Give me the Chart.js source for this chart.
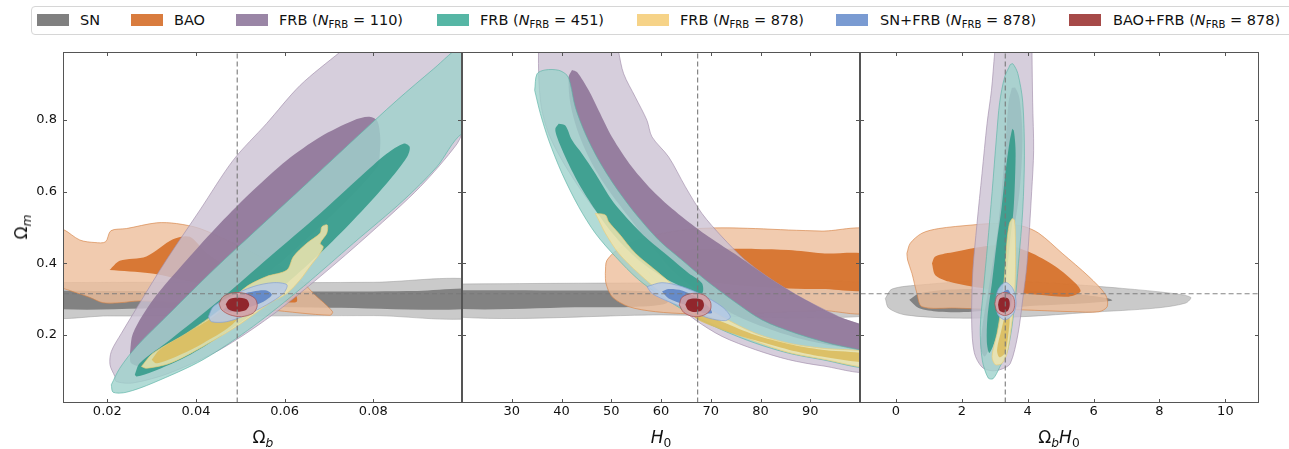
<!DOCTYPE html>
<html lang="en">
<head>
  <meta charset="UTF-8">
  <title>Omega_m constraints</title>
  <script src="https://cdn.jsdelivr.net/npm/chart.js@4.4.1/dist/chart.umd.min.js"></script>
  <style>
    body {
      margin: 0;
      width: 1289px;
      height: 449px;
      background: #fff;
      font-family: 'DejaVu Sans', sans-serif;
      color: #111;
      position: relative;
      overflow: hidden;
    }
    canvas { position: absolute; top: 0; }
    #legend {
      position: absolute;
      left: 31px;
      top: 6px;
      width: 1290px;
      height: 27px;
      border: 1px solid #d6d6d6;
      border-radius: 4px;
    }
    .patch { position: absolute; top: 14px; width: 32px; height: 12px; }
    .ltxt { position: absolute; top: 12px; font-size: 14.5px; line-height: 17px; white-space: nowrap; }
    .ltxt sub { font-size: 70%; vertical-align: -0.28em; line-height: 0; }
    .axl { position: absolute; top: 427px; font-size: 17px; line-height: 20px; transform: translateX(-50%); white-space: nowrap; }
    .axl sub, #ylab sub { font-size: 72%; vertical-align: -0.3em; line-height: 0; }
    #ylab { position: absolute; left: 21px; top: 227px; font-size: 17px; line-height: 20px;
            transform: translate(-50%, -50%) rotate(-90deg); white-space: nowrap; }
  </style>
</head>
<body>

  <div id="legend"></div>
  <div class="patch" style="left:37px;background:#808080"></div>
  <div class="ltxt" style="left:80px">SN</div>
  <div class="patch" style="left:131px;background:#d97c3e"></div>
  <div class="ltxt" style="left:174px">BAO</div>
  <div class="patch" style="left:236px;background:#9a86a6"></div>
  <div class="ltxt" style="left:279px">FRB (<i>N</i><sub>FRB</sub> = 110)</div>
  <div class="patch" style="left:437px;background:#56b6a5"></div>
  <div class="ltxt" style="left:480px">FRB (<i>N</i><sub>FRB</sub> = 451)</div>
  <div class="patch" style="left:637px;background:#f6d388"></div>
  <div class="ltxt" style="left:680px">FRB (<i>N</i><sub>FRB</sub> = 878)</div>
  <div class="patch" style="left:836px;background:#7a9bd2"></div>
  <div class="ltxt" style="left:880px">SN+FRB (<i>N</i><sub>FRB</sub> = 878)</div>
  <div class="patch" style="left:1069px;background:#a64a48"></div>
  <div class="ltxt" style="left:1113px">BAO+FRB (<i>N</i><sub>FRB</sub> = 878)</div>

  <canvas id="pB" width="462" height="449" style="left:0px"></canvas>
  <canvas id="pH" width="398" height="449" style="left:462px"></canvas>
  <canvas id="pBH" width="399" height="449" style="left:860px"></canvas>

  <div id="ylab">Ω<sub><i>m</i></sub></div>
  <div class="axl" style="left:263px">Ω<sub><i>b</i></sub></div>
  <div class="axl" style="left:661px"><i>H</i><sub>0</sub></div>
  <div class="axl" style="left:1059px">Ω<sub><i>b</i></sub><i>H</i><sub>0</sub></div>

  <script>
    // tick values
    const omegaMTicks = [0.2, 0.4, 0.6, 0.8];
    const omegaBTicks = [0.02, 0.04, 0.06, 0.08];
    const h0Ticks = [30, 40, 50, 60, 70, 80, 90];
    const omegaBH0Ticks = [0, 2, 4, 6, 8, 10];

    // fiducial (dashed) values
    const omegaBFid = 0.0493;
    const h0Fid = 67.36;
    const omegaBH0Fid = 3.32;
    const omegaMFid = 0.315;

    // ---- panel 1: Omega_b vs Omega_m (95% outer, 68% inner) ----
    const sn95_b = [[0.005,0.346],[0.03,0.347],[0.06,0.346],[0.08,0.347],[0.105,0.349],[0.105,0.253],[0.08,0.254],[0.05,0.253],[0.02,0.253],[0.005,0.254],[0.005,0.346]];
    const sn68_b = [[0.005,0.324],[0.04,0.322],[0.07,0.321],[0.09,0.323],[0.105,0.325],[0.105,0.276],[0.07,0.276],[0.04,0.277],[0.005,0.276],[0.005,0.324]];
    const bao95_b = [[0.007,0.335],[0.007,0.502],[0.0100,0.495],[0.0138,0.465],[0.0172,0.458],[0.0196,0.460],[0.0208,0.491],[0.0243,0.497],[0.0311,0.513],[0.0356,0.511],[0.0409,0.497],[0.0484,0.456],[0.0559,0.409],[0.0620,0.372],[0.0665,0.316],[0.0708,0.265],[0.0702,0.255],[0.0567,0.270],[0.0454,0.284],[0.0341,0.291],[0.0273,0.295],[0.0228,0.290],[0.0190,0.290],[0.0160,0.305],[0.0120,0.322],[0.0100,0.330],[0.007,0.335]];
    const bao68_b = [[0.0205,0.381],[0.0228,0.407],[0.0288,0.419],[0.0348,0.467],[0.0386,0.474],[0.0424,0.428],[0.0484,0.381],[0.0559,0.344],[0.0623,0.316],[0.0627,0.293],[0.0597,0.293],[0.0522,0.321],[0.0446,0.335],[0.0371,0.354],[0.0296,0.372],[0.0205,0.381]];
    const frb110_95_b = [[0.0217,0.084],[0.0206,0.117],[0.0209,0.154],[0.0232,0.205],[0.0273,0.289],[0.0333,0.409],[0.0409,0.549],[0.0484,0.688],[0.0559,0.790],[0.0635,0.897],[0.0725,0.990],[0.0785,1.05],[0.1086,1.05],[0.1086,0.883],[0.1011,0.790],[0.0989,0.734],[0.0906,0.614],[0.0793,0.484],[0.0680,0.363],[0.0567,0.251],[0.0454,0.159],[0.0341,0.094],[0.0258,0.066],[0.0220,0.070],[0.0217,0.084]];
    const frb110_68_b = [[0.0251,0.149],[0.0258,0.205],[0.0303,0.298],[0.0379,0.409],[0.0454,0.511],[0.0529,0.604],[0.0605,0.688],[0.0680,0.753],[0.0755,0.799],[0.0789,0.809],[0.0808,0.799],[0.0815,0.762],[0.0815,0.716],[0.0808,0.669],[0.0717,0.548],[0.0605,0.419],[0.0492,0.298],[0.0379,0.186],[0.0288,0.112],[0.0254,0.121],[0.0251,0.149]];
    const frb451_95_b = [[0.0209,0.061],[0.0228,0.107],[0.0266,0.168],[0.0341,0.261],[0.0439,0.381],[0.0544,0.502],[0.0650,0.623],[0.0755,0.744],[0.0853,0.855],[0.0936,0.943],[0.1004,1.013],[0.1086,1.05],[0.1086,0.790],[0.1000,0.762],[0.0943,0.669],[0.0868,0.576],[0.0755,0.456],[0.0642,0.335],[0.0529,0.224],[0.0416,0.131],[0.0303,0.066],[0.0243,0.040],[0.0213,0.040],[0.0209,0.061]];
    const frb451_68_b = [[0.0262,0.089],[0.0273,0.121],[0.0341,0.186],[0.0454,0.298],[0.0567,0.419],[0.0680,0.539],[0.0770,0.641],[0.0830,0.706],[0.0868,0.734],[0.0882,0.725],[0.0876,0.697],[0.0830,0.623],[0.0755,0.521],[0.0680,0.428],[0.0605,0.344],[0.0529,0.261],[0.0454,0.196],[0.0379,0.140],[0.0303,0.098],[0.0266,0.084],[0.0262,0.089]];
    const frb878_95_b = [[0.0277,0.112],[0.0303,0.149],[0.0379,0.205],[0.0454,0.270],[0.0514,0.335],[0.0559,0.363],[0.0605,0.381],[0.0620,0.419],[0.0650,0.456],[0.0680,0.484],[0.0684,0.502],[0.0696,0.507],[0.0695,0.484],[0.0680,0.456],[0.0687,0.446],[0.0680,0.428],[0.0657,0.391],[0.0635,0.354],[0.0605,0.316],[0.0567,0.289],[0.0492,0.224],[0.0416,0.168],[0.0341,0.121],[0.0288,0.107],[0.0277,0.112]];
    const frb878_68_b = [[0.0300,0.131],[0.0318,0.159],[0.0379,0.205],[0.0439,0.251],[0.0477,0.289],[0.0499,0.298],[0.0514,0.279],[0.0477,0.224],[0.0416,0.177],[0.0356,0.140],[0.0311,0.121],[0.0300,0.131]];
    const snfrb95_b = [[0.0428,0.251],[0.0439,0.279],[0.0477,0.307],[0.0529,0.335],[0.0574,0.346],[0.0605,0.340],[0.0597,0.316],[0.0559,0.284],[0.0514,0.256],[0.0469,0.237],[0.0435,0.237],[0.0428,0.251]];
    const snfrb68_b = [[0.0461,0.270],[0.0492,0.307],[0.0529,0.321],[0.0559,0.324],[0.0571,0.312],[0.0552,0.293],[0.0514,0.275],[0.0477,0.263],[0.0461,0.270]];
    const baofrb95_b = [[0.0452,0.287],[0.0461,0.307],[0.0484,0.318],[0.0510,0.316],[0.0533,0.302],[0.0538,0.281],[0.0529,0.261],[0.0503,0.251],[0.0477,0.256],[0.0458,0.270],[0.0452,0.287]];
    const baofrb68_b = [[0.0467,0.286],[0.0475,0.300],[0.0493,0.304],[0.0514,0.300],[0.0520,0.284],[0.0513,0.270],[0.0492,0.265],[0.0473,0.272],[0.0467,0.286]];

    // ---- panel 2: H0 vs Omega_m ----
    const sn95_h = [[15,0.342],[60,0.345],[105,0.340],[105,0.258],[60,0.256],[15,0.256],[15,0.342]];
    const sn68_h = [[15,0.325],[45,0.324],[57,0.322],[62,0.312],[61,0.288],[55,0.279],[45,0.277],[15,0.277],[15,0.325]];
    const bao95_h = [[48.81,0.372],[49.15,0.409],[52.16,0.446],[58.86,0.479],[65.56,0.495],[72.26,0.499],[78.96,0.497],[85.66,0.493],[92.36,0.490],[102.4,0.487],[102.4,0.270],[92.36,0.268],[85.66,0.265],[78.96,0.261],[72.26,0.259],[65.56,0.259],[58.86,0.265],[53.50,0.279],[50.15,0.307],[48.94,0.344],[48.81,0.372]];
    const bao68_h = [[60.20,0.409],[61.54,0.428],[65.56,0.437],[72.26,0.440],[78.96,0.440],[85.66,0.437],[92.36,0.428],[102.4,0.420],[102.4,0.330],[92.36,0.328],[85.66,0.330],[78.96,0.335],[72.26,0.344],[65.56,0.363],[61.54,0.381],[60.20,0.409]];
    const frb110_95_h = [[35.41,1.05],[35.41,0.929],[35.95,0.836],[37.42,0.762],[40.10,0.688],[43.45,0.614],[46.80,0.549],[50.82,0.484],[54.84,0.419],[58.86,0.354],[62.88,0.289],[66.90,0.242],[72.26,0.196],[78.96,0.159],[85.66,0.131],[92.36,0.114],[102.4,0.100],[102.4,0.205],[95.71,0.251],[89.01,0.298],[82.31,0.354],[76.95,0.409],[72.26,0.474],[68.24,0.539],[64.89,0.614],[61.54,0.697],[58.19,0.753],[57.18,0.799],[54.84,0.864],[52.50,0.929],[51.49,0.990],[50.82,1.05],[35.41,1.05]];
    const frb110_68_h = [[42.11,0.940],[43.12,0.934],[45.46,0.883],[47.47,0.827],[50.15,0.753],[54.17,0.669],[58.86,0.595],[64.22,0.530],[69.58,0.474],[75.61,0.419],[82.31,0.354],[89.01,0.298],[95.71,0.251],[102.4,0.214],[102.4,0.159],[95.71,0.168],[89.01,0.186],[82.31,0.214],[75.61,0.251],[68.91,0.307],[62.88,0.372],[58.19,0.446],[53.50,0.530],[49.48,0.604],[46.13,0.679],[43.45,0.762],[41.78,0.846],[41.44,0.920],[42.11,0.940]];
    const frb451_95_h = [[34.61,0.883],[35.08,0.929],[36.75,0.940],[39.43,0.939],[41.11,0.925],[41.78,0.901],[42.78,0.836],[44.79,0.762],[47.47,0.688],[50.82,0.614],[54.84,0.539],[59.53,0.465],[64.22,0.409],[68.91,0.354],[74.27,0.298],[80.30,0.242],[87.00,0.205],[93.70,0.177],[102.4,0.145],[102.4,0.107],[92.36,0.131],[85.66,0.149],[78.96,0.177],[72.26,0.214],[65.56,0.261],[60.20,0.307],[55.51,0.354],[50.82,0.419],[46.80,0.484],[43.45,0.558],[40.10,0.651],[37.42,0.744],[35.75,0.818],[34.61,0.883]];
    const frb451_68_h = [[39.43,0.790],[40.77,0.785],[42.11,0.744],[44.12,0.706],[46.80,0.651],[50.15,0.576],[53.50,0.521],[57.52,0.465],[61.54,0.419],[65.56,0.372],[68.24,0.344],[68.24,0.316],[64.89,0.330],[60.20,0.363],[55.51,0.409],[50.82,0.474],[46.80,0.549],[43.45,0.623],[40.77,0.697],[39.10,0.753],[38.76,0.776],[39.43,0.790]];
    const frb878_95_h = [[46.80,0.539],[48.81,0.535],[49.48,0.516],[51.49,0.484],[54.84,0.428],[58.86,0.381],[62.88,0.335],[66.90,0.298],[72.26,0.251],[78.96,0.205],[85.66,0.177],[92.36,0.163],[102.4,0.149],[102.4,0.110],[92.36,0.133],[85.66,0.151],[78.96,0.182],[72.26,0.219],[65.56,0.265],[60.20,0.316],[55.51,0.372],[51.49,0.428],[48.81,0.484],[47.47,0.521],[46.80,0.539]];
    const frb878_68_h = [[66.90,0.270],[72.26,0.237],[78.96,0.200],[85.66,0.175],[92.36,0.159],[102.4,0.145],[102.4,0.123],[92.36,0.140],[85.66,0.159],[78.96,0.185],[72.26,0.214],[66.90,0.247],[66.90,0.270]];
    const snfrb95_h = [[57.18,0.335],[60.20,0.346],[64.22,0.335],[68.24,0.312],[72.26,0.279],[73.94,0.251],[72.93,0.240],[69.58,0.247],[65.56,0.270],[61.54,0.293],[58.19,0.316],[57.18,0.335]];
    const snfrb68_h = [[60.20,0.321],[61.54,0.328],[64.22,0.324],[66.90,0.307],[69.58,0.279],[70.25,0.261],[68.24,0.263],[64.89,0.284],[61.54,0.302],[60.20,0.321]];
    const baofrb95_h = [[63.68,0.284],[64.22,0.305],[66.23,0.316],[68.58,0.312],[69.92,0.293],[69.92,0.270],[68.58,0.255],[66.57,0.251],[64.56,0.263],[63.68,0.284]];
    const baofrb68_h = [[64.89,0.284],[65.43,0.298],[66.77,0.302],[68.24,0.298],[68.64,0.283],[68.11,0.268],[66.77,0.264],[65.43,0.270],[64.89,0.284]];

    // ---- panel 3: Omega_b*H0 vs Omega_m ----
    const sn95_bh = [[-0.32,0.302],[-0.12,0.328],[0.790,0.340],[2.817,0.352],[4.843,0.344],[6.869,0.330],[8.389,0.316],[8.946,0.305],[8.794,0.289],[7.883,0.275],[5.856,0.263],[3.830,0.251],[1.803,0.247],[0.284,0.256],[-0.22,0.275],[-0.32,0.302]];
    const sn68_bh = [[0.405,0.298],[0.689,0.315],[1.297,0.324],[2.310,0.328],[3.830,0.324],[5.350,0.316],[6.464,0.302],[6.565,0.296],[5.856,0.289],[3.830,0.279],[2.310,0.265],[1.297,0.265],[0.689,0.275],[0.405,0.298]];
    const bao95_bh = [[0.334,0.428],[0.436,0.456],[0.790,0.484],[1.297,0.497],[2.310,0.507],[3.019,0.511],[3.830,0.504],[4.336,0.484],[5.046,0.428],[5.856,0.363],[6.363,0.312],[6.413,0.279],[6.160,0.265],[5.350,0.265],[3.830,0.270],[2.817,0.272],[1.803,0.275],[0.790,0.279],[0.638,0.316],[0.486,0.372],[0.355,0.409],[0.334,0.428]];
    const bao68_bh = [[1.094,0.400],[1.196,0.419],[1.803,0.432],[2.614,0.446],[3.323,0.451],[4.032,0.432],[4.843,0.391],[5.451,0.344],[5.603,0.321],[5.248,0.307],[4.336,0.312],[3.323,0.321],[2.310,0.335],[1.601,0.349],[1.196,0.367],[1.094,0.400]];
    const frb110_95_bh = [[3.070,1.05],[3.000,0.990],[2.900,0.883],[2.766,0.790],[2.614,0.651],[2.462,0.511],[2.330,0.372],[2.300,0.233],[2.380,0.150],[2.614,0.110],[2.918,0.100],[3.222,0.105],[3.470,0.120],[3.700,0.200],[3.850,0.300],[3.980,0.400],[4.120,0.600],[4.180,0.715],[4.150,0.850],[4.130,0.990],[4.130,1.05],[3.070,1.05]];
    const frb110_68_bh = [[3.52,0.890],[3.42,0.850],[3.30,0.700],[3.10,0.500],[2.85,0.350],[2.62,0.220],[2.58,0.160],[2.70,0.140],[2.90,0.180],[3.20,0.300],[3.50,0.450],[3.75,0.600],[3.84,0.750],[3.75,0.860],[3.62,0.890],[3.52,0.890]];
    const frb451_95_bh = [[3.47,0.955],[3.30,0.920],[3.15,0.850],[3.05,0.750],[2.92,0.600],[2.78,0.450],[2.65,0.320],[2.56,0.220],[2.62,0.130],[2.80,0.080],[2.95,0.078],[3.15,0.110],[3.40,0.160],[3.60,0.280],[3.72,0.400],[3.85,0.550],[3.90,0.700],[3.85,0.850],[3.70,0.930],[3.55,0.957],[3.47,0.955]];
    const frb451_68_bh = [[3.53,0.776],[3.45,0.740],[3.32,0.650],[3.20,0.550],[3.05,0.450],[2.92,0.350],[2.78,0.250],[2.76,0.180],[2.83,0.150],[2.95,0.170],[3.12,0.220],[3.30,0.320],[3.45,0.450],[3.57,0.550],[3.62,0.650],[3.63,0.720],[3.58,0.770],[3.53,0.776]];
    const frb878_95_bh = [[3.526,0.525],[3.445,0.511],[3.374,0.465],[3.303,0.372],[3.202,0.279],[3.070,0.205],[2.918,0.140],[3.019,0.117],[3.222,0.121],[3.374,0.149],[3.475,0.205],[3.576,0.279],[3.627,0.372],[3.627,0.465],[3.597,0.521],[3.526,0.525]];
    const frb878_68_bh = [[3.323,0.261],[3.202,0.214],[3.070,0.159],[3.141,0.138],[3.303,0.149],[3.404,0.196],[3.445,0.251],[3.323,0.261]];
    const snfrb95_bh = [[3.019,0.293],[3.100,0.326],[3.323,0.347],[3.546,0.330],[3.647,0.293],[3.576,0.261],[3.323,0.242],[3.100,0.256],[3.019,0.293]];
    const snfrb68_bh = [[3.202,0.298],[3.273,0.321],[3.404,0.326],[3.506,0.307],[3.475,0.279],[3.343,0.270],[3.222,0.279],[3.202,0.298]];
    const baofrb95_bh = [[2.999,0.287],[3.070,0.309],[3.303,0.319],[3.546,0.309],[3.607,0.287],[3.546,0.265],[3.303,0.254],[3.070,0.265],[2.999,0.287]];
    const baofrb68_bh = [[3.100,0.284],[3.141,0.300],[3.273,0.305],[3.425,0.300],[3.455,0.284],[3.404,0.268],[3.273,0.263],[3.141,0.268],[3.100,0.284]];

    // fill styles, bottom layer first: SN, BAO, FRB110, FRB451, FRB878, SN+FRB, BAO+FRB
    const layerStyles = [
      { outer: 'rgba(189,189,189,0.8)', inner: 'rgba(124,124,124,0.92)', edge: 'rgba(150,150,150,0.6)' },
      { outer: 'rgba(237,190,155,0.8)', inner: 'rgba(213,111,40,0.9)',   edge: 'rgba(214,130,70,0.8)' },
      { outer: 'rgba(204,194,211,0.8)', inner: 'rgba(143,118,152,0.9)',  edge: 'rgba(160,140,170,0.8)' },
      { outer: 'rgba(159,210,204,0.8)', inner: 'rgba(53,155,139,0.9)',   edge: 'rgba(90,180,165,0.8)' },
      { outer: 'rgba(241,229,174,0.85)', inner: 'rgba(218,189,94,0.9)',  edge: 'rgba(235,205,120,0.85)' },
      { outer: 'rgba(182,201,231,0.85)', inner: 'rgba(94,133,199,0.92)', edge: 'rgba(130,158,210,0.85)' },
      { outer: 'rgba(214,159,161,0.85)', inner: 'rgba(140,28,34,0.92)',  edge: 'rgba(166,74,72,0.85)' }
    ];

    function contourSets(layers) {
      const sets = [];
      layers.forEach((pair, i) => {
        const st = layerStyles[i];
        pair.forEach((poly, k) => {
          sets.push({
            data: poly.map(([x, y]) => ({ x, y })),
            showLine: true,
            fill: 'shape',
            backgroundColor: k === 0 ? st.outer : st.inner,
            borderColor: k === 0 ? st.edge : 'rgba(0,0,0,0)',
            borderWidth: 0.8,
            pointRadius: 0,
            tension: 0.3
          });
        });
      });
      return sets;
    }

    function dashed(points) {
      return {
        data: points,
        showLine: true,
        fill: false,
        borderColor: 'rgba(120,120,120,0.9)',
        borderWidth: 1.2,
        borderDash: [5, 3],
        pointRadius: 0,
        tension: 0
      };
    }

    // frame + inward tick marks on all four sides
    const frameTicks = {
      id: 'frameTicks',
      afterDraw(chart) {
        const { ctx, chartArea: a, scales: { x, y } } = chart;
        ctx.save();
        ctx.strokeStyle = '#555';
        ctx.lineWidth = 1;
        ctx.strokeRect(a.left + 0.5, a.top + 0.5, a.right - a.left - 1, a.bottom - a.top - 1);
        ctx.beginPath();
        x.ticks.forEach(t => {
          const px = Math.round(x.getPixelForValue(t.value)) + 0.5;
          ctx.moveTo(px, a.bottom); ctx.lineTo(px, a.bottom - 4);
          ctx.moveTo(px, a.top); ctx.lineTo(px, a.top + 4);
        });
        y.ticks.forEach(t => {
          const py = Math.round(y.getPixelForValue(t.value)) + 0.5;
          ctx.moveTo(a.left, py); ctx.lineTo(a.left + 4, py);
          ctx.moveTo(a.right, py); ctx.lineTo(a.right - 4, py);
        });
        ctx.stroke();
        ctx.restore();
      }
    };

    function makePanel(id, layers, xMin, xMax, xTicks, xFid, showY) {
      const datasets = contourSets(layers);
      datasets.push(dashed([{ x: xFid, y: -0.1 }, { x: xFid, y: 1.1 }]));
      datasets.push(dashed([{ x: xMin - 50, y: omegaMFid }, { x: xMax + 50, y: omegaMFid }]));
      const n = datasets.length;
      datasets.forEach((d, i) => { d.order = n - i; });

      new Chart(document.getElementById(id), {
        type: 'scatter',
        data: { datasets },
        options: {
          responsive: false,
          animation: false,
          events: [],
          layout: { padding: { top: 52, left: 0, right: 0, bottom: 0 } },
          plugins: { legend: { display: false }, tooltip: { enabled: false } },
          scales: {
            x: {
              type: 'linear', min: xMin, max: xMax,
              afterBuildTicks: s => { s.ticks = xTicks.map(v => ({ value: v })); },
              afterFit: s => { s.height = 46; },
              grid: { display: false, drawTicks: false },
              border: { display: false },
              ticks: { color: '#111', padding: 1, font: { family: 'DejaVu Sans', size: 13 },
                       maxRotation: 0, callback: v => String(v) }
            },
            y: {
              type: 'linear', min: 0.01, max: 0.99,
              afterBuildTicks: s => { s.ticks = omegaMTicks.map(v => ({ value: v })); },
              afterFit: s => { s.width = showY ? 63 : 0; },
              grid: { display: false, drawTicks: false },
              border: { display: false },
              ticks: { display: showY, color: '#111', padding: 6, font: { family: 'DejaVu Sans', size: 13 },
                       callback: v => String(v) }
            }
          }
        },
        plugins: [frameTicks]
      });
    }

    makePanel('pB', [
      [sn95_b, sn68_b], [bao95_b, bao68_b], [frb110_95_b, frb110_68_b], [frb451_95_b, frb451_68_b],
      [frb878_95_b, frb878_68_b], [snfrb95_b, snfrb68_b], [baofrb95_b, baofrb68_b]
    ], 0.01, 0.10, omegaBTicks, omegaBFid, true);

    makePanel('pH', [
      [sn95_h, sn68_h], [bao95_h, bao68_h], [frb110_95_h, frb110_68_h], [frb451_95_h, frb451_68_h],
      [frb878_95_h, frb878_68_h], [snfrb95_h, snfrb68_h], [baofrb95_h, baofrb68_h]
    ], 20, 100, h0Ticks, h0Fid, false);

    makePanel('pBH', [
      [sn95_bh, sn68_bh], [bao95_bh, bao68_bh], [frb110_95_bh, frb110_68_bh], [frb451_95_bh, frb451_68_bh],
      [frb878_95_bh, frb878_68_bh], [snfrb95_bh, snfrb68_bh], [baofrb95_bh, baofrb68_bh]
    ], -1.09, 11.02, omegaBH0Ticks, omegaBH0Fid, false);
  </script>

</body>
</html>
